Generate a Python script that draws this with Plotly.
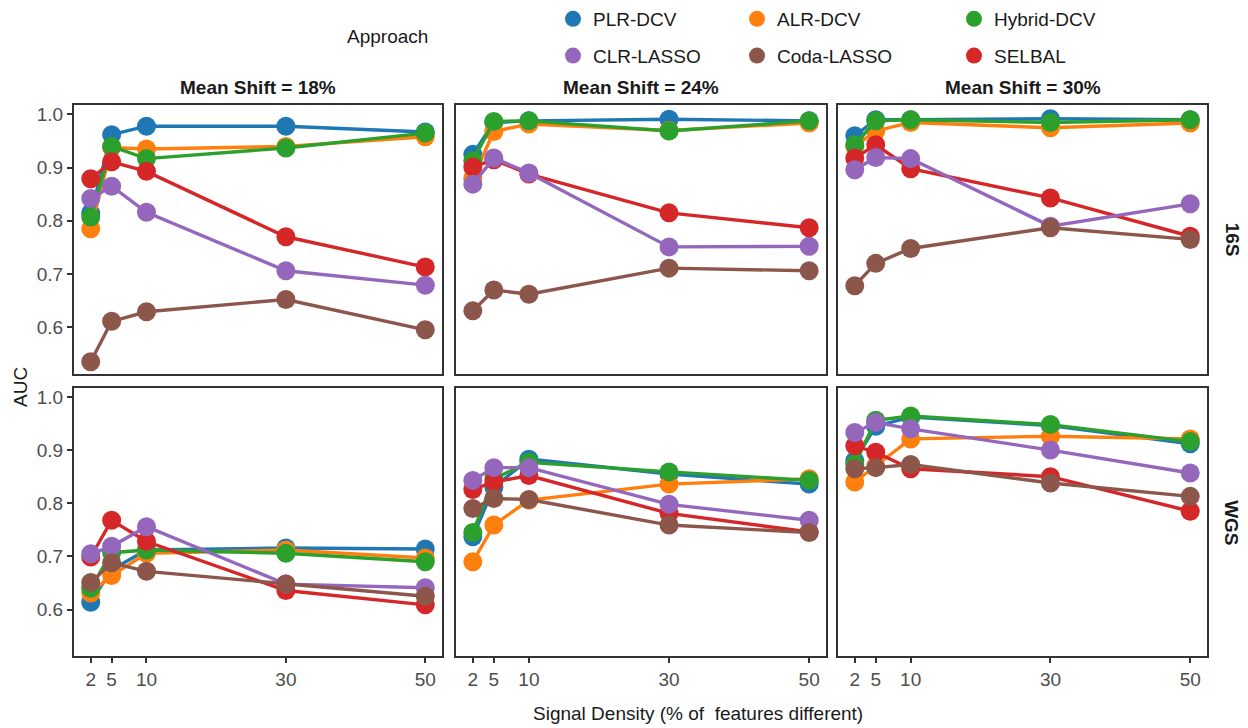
import plotly.graph_objects as go

# Signal density levels (% of features different)
density = [2, 5, 10, 30, 50]
shift_labels = ["Mean Shift = 18%", "Mean Shift = 24%", "Mean Shift = 30%"]
platforms = ["16S", "WGS"]
approaches = ["PLR-DCV", "ALR-DCV", "Hybrid-DCV", "CLR-LASSO", "Coda-LASSO", "SELBAL"]
colors = ["#1f77b4", "#ff7f0e", "#2ca02c", "#9467bd", "#8c564b", "#d62728"]

# AUC per approach; rows = mean shift 18%, 24%, 30%; columns = density
plr_dcv_16s = [[0.815, 0.962, 0.978, 0.978, 0.967],
               [0.925, 0.985, 0.988, 0.991, 0.988],
               [0.960, 0.990, 0.990, 0.992, 0.990]]
alr_dcv_16s = [[0.785, 0.938, 0.935, 0.940, 0.958],
               [0.880, 0.968, 0.982, 0.970, 0.984],
               [0.940, 0.969, 0.985, 0.975, 0.984]]
hybrid_dcv_16s = [[0.807, 0.940, 0.917, 0.937, 0.965],
                  [0.913, 0.987, 0.988, 0.969, 0.988],
                  [0.943, 0.988, 0.990, 0.985, 0.990]]
clr_lasso_16s = [[0.842, 0.865, 0.816, 0.706, 0.679],
                 [0.869, 0.918, 0.890, 0.751, 0.752],
                 [0.896, 0.919, 0.917, 0.790, 0.832]]
coda_lasso_16s = [[0.535, 0.611, 0.629, 0.652, 0.595],
                  [0.631, 0.670, 0.662, 0.711, 0.706],
                  [0.678, 0.720, 0.748, 0.787, 0.765]]
selbal_16s = [[0.879, 0.911, 0.893, 0.770, 0.713],
              [0.901, 0.915, 0.888, 0.815, 0.787],
              [0.918, 0.943, 0.898, 0.843, 0.771]]

plr_dcv_wgs = [[0.614, 0.675, 0.712, 0.716, 0.714],
               [0.737, 0.830, 0.883, 0.855, 0.836],
               [0.880, 0.945, 0.962, 0.946, 0.912]]
alr_dcv_wgs = [[0.631, 0.664, 0.706, 0.712, 0.697],
               [0.690, 0.759, 0.806, 0.836, 0.846],
               [0.840, 0.870, 0.921, 0.926, 0.921]]
hybrid_dcv_wgs = [[0.640, 0.707, 0.712, 0.706, 0.690],
                  [0.745, 0.846, 0.877, 0.859, 0.843],
                  [0.874, 0.956, 0.964, 0.948, 0.916]]
clr_lasso_wgs = [[0.705, 0.719, 0.756, 0.648, 0.641],
                 [0.843, 0.867, 0.867, 0.798, 0.768],
                 [0.933, 0.952, 0.940, 0.900, 0.857]]
coda_lasso_wgs = [[0.651, 0.688, 0.672, 0.648, 0.625],
                  [0.790, 0.809, 0.807, 0.759, 0.745],
                  [0.865, 0.867, 0.873, 0.838, 0.813]]
selbal_wgs = [[0.699, 0.768, 0.728, 0.636, 0.609],
              [0.826, 0.840, 0.852, 0.781, 0.746],
              [0.908, 0.896, 0.865, 0.850, 0.785]]

auc = {
    "16S": [plr_dcv_16s, alr_dcv_16s, hybrid_dcv_16s, clr_lasso_16s, coda_lasso_16s, selbal_16s],
    "WGS": [plr_dcv_wgs, alr_dcv_wgs, hybrid_dcv_wgs, clr_lasso_wgs, coda_lasso_wgs, selbal_wgs],
}

# drawing order (later on top)
draw_order = [0, 1, 2, 5, 3, 4]

W, H = 1248, 728
x_px = [(74, 442), (456, 826), (838, 1207)]
y_px = [(102, 372), (386, 656)]

FONT = "Liberation Sans, Arial, sans-serif"
AXIS_COL = "#333333"
TICK_TXT = "#4d4d4d"
TXT = "#1a1a1a"
TICK_SIZE = 19
LABEL_SIZE = 19

fig = go.Figure()
layout = {}

for r, plat in enumerate(platforms):
    for c in range(3):
        idx = r * 3 + c + 1
        xa = "xaxis" if idx == 1 else f"xaxis{idx}"
        ya = "yaxis" if idx == 1 else f"yaxis{idx}"
        xref = "x" if idx == 1 else f"x{idx}"
        yref = "y" if idx == 1 else f"y{idx}"
        layout[xa] = dict(
            domain=[x_px[c][0] / W, x_px[c][1] / W],
            range=[-0.4, 52.4], anchor=yref,
            tickvals=density if r == 1 else [],
            ticktext=[str(d) for d in density] if r == 1 else [],
            ticks="outside" if r == 1 else "", ticklen=5, tickwidth=2, tickcolor=AXIS_COL,
            tickfont=dict(family=FONT, size=TICK_SIZE, color=TICK_TXT),
            showgrid=False, zeroline=False,
            showline=True, linecolor=AXIS_COL, linewidth=2, mirror=True,
        )
        layout[ya] = dict(
            domain=[1 - y_px[r][1] / H, 1 - y_px[r][0] / H],
            range=[0.512, 1.017], anchor=xref,
            tickvals=[0.6, 0.7, 0.8, 0.9, 1.0] if c == 0 else [],
            ticktext=["0.6", "0.7", "0.8", "0.9", "1.0"] if c == 0 else [],
            ticks="outside" if c == 0 else "", ticklen=5, tickwidth=2, tickcolor=AXIS_COL,
            tickfont=dict(family=FONT, size=TICK_SIZE, color=TICK_TXT),
            showgrid=False, zeroline=False,
            showline=True, linecolor=AXIS_COL, linewidth=2, mirror=True,
        )
        for k in draw_order:
            fig.add_trace(go.Scatter(
                x=density, y=auc[plat][k][c], mode="lines+markers",
                line=dict(color=colors[k], width=3.4),
                marker=dict(color=colors[k], size=19),
                xaxis=xref, yaxis=yref, showlegend=False, name=approaches[k],
            ))

# Legend: one single-entry legend per key, laid out in a 3 x 2 grid
leg_x = [561, 745, 962]
leg_y = [15, 52]
for k, name in enumerate(approaches):
    lid = "legend" if k == 0 else f"legend{k + 1}"
    col, row = k % 3, k // 3
    fig.add_trace(go.Scatter(
        x=[None], y=[None], mode="markers", name=name,
        marker=dict(color=colors[k], size=17),
        showlegend=True, legend=lid,
    ))
    layout[lid] = dict(
        x=(leg_x[col] - 8) / W, y=1 - leg_y[row] / H, xanchor="left", yanchor="middle",
        bgcolor="rgba(0,0,0,0)", borderwidth=0,
        font=dict(family=FONT, size=LABEL_SIZE, color=TXT),
        itemsizing="trace", itemwidth=30,
    )

annotations = [
    dict(text="Approach", x=387 / W, y=1 - 33 / H, xref="paper", yref="paper",
         showarrow=False, font=dict(family=FONT, size=LABEL_SIZE, color=TXT), xanchor="center", yanchor="middle"),
    dict(text="AUC", x=21 / W, y=1 - 385 / H, xref="paper", yref="paper", textangle=-90,
         showarrow=False, font=dict(family=FONT, size=LABEL_SIZE, color=TXT), xanchor="center", yanchor="middle"),
    dict(text="Signal Density (% of  features different)", x=698 / W, y=1 - 713 / H,
         xref="paper", yref="paper", showarrow=False,
         font=dict(family=FONT, size=LABEL_SIZE, color=TXT), xanchor="center", yanchor="middle"),
]
for c, lab in enumerate(shift_labels):
    annotations.append(dict(
        text=f"<b>{lab}</b>", x=((x_px[c][0] + x_px[c][1]) / 2) / W, y=1 - 84 / H,
        xref="paper", yref="paper", showarrow=False,
        font=dict(family=FONT, size=LABEL_SIZE, color=TXT), xanchor="center", yanchor="middle"))
for r, plat in enumerate(platforms):
    annotations.append(dict(
        text=f"<b>{plat}</b>", x=1232 / W, y=1 - ((y_px[r][0] + y_px[r][1]) / 2) / H,
        xref="paper", yref="paper", showarrow=False, textangle=90,
        font=dict(family=FONT, size=LABEL_SIZE, color=TXT), xanchor="center", yanchor="middle"))

fig.update_layout(
    width=W, height=H, margin=dict(l=0, r=0, t=0, b=0),
    plot_bgcolor="white", paper_bgcolor="white",
    annotations=annotations, **layout,
)

fig.write_html("out.html")
